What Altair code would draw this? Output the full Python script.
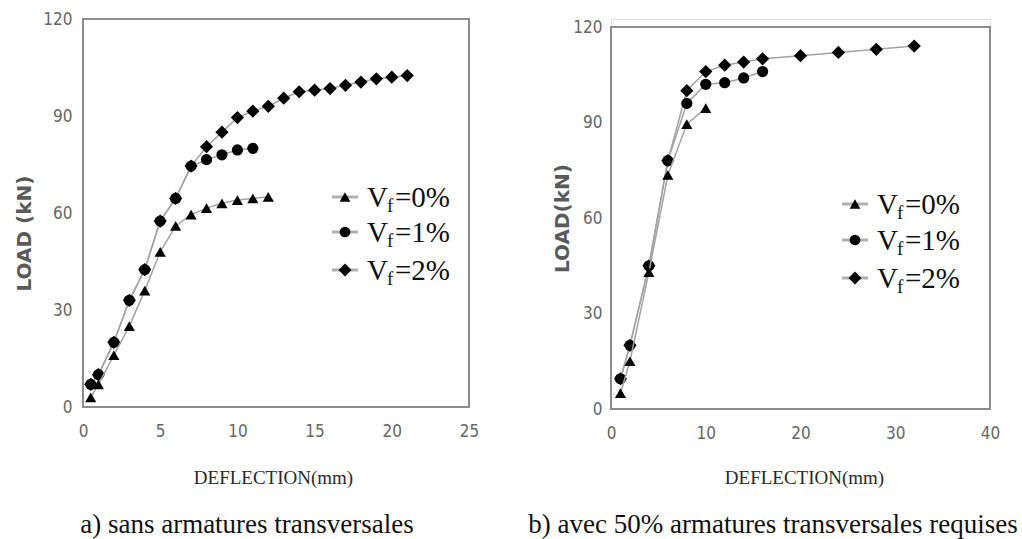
import altair as alt
import pandas as pd

series_names = ["Vf = 0%", "Vf = 1%", "Vf = 2%"]
legend_nums = ["=0%", "=1%", "=2%"]
shapes = ["triangle-up", "circle", "diamond"]
sizes = [125, 125, 175]

# Panel a) sans armatures transversales
a_x0 = [0.5, 1, 2, 3, 4, 5, 6, 7, 8, 9, 10, 11, 12]
a_y0 = [3, 7, 16, 25, 36, 48, 56, 59.5, 61.5, 63, 64, 64.5, 65]
a_x1 = [0.5, 1, 2, 3, 4, 5, 6, 7, 8, 9, 10, 11]
a_y1 = [7, 10, 20, 33, 42.5, 57.5, 64.5, 74.5, 76.5, 78, 79.5, 80]
a_x2 = [0.5, 1, 2, 3, 4, 5, 6, 7, 8, 9, 10, 11, 12, 13, 14, 15, 16, 17, 18, 19, 20, 21]
a_y2 = [7, 10, 20, 33, 42.5, 57.5, 64.5, 74.5, 80.5, 85, 89.5, 91.5, 93, 95.5, 97.5,
        98, 98.5, 99.5, 100.5, 101.5, 102, 102.5]

# Panel b) avec 50% armatures transversales requises
b_x0 = [1, 2, 4, 6, 8, 10]
b_y0 = [5, 15, 43, 73.5, 89.5, 94.5]
b_x1 = [1, 2, 4, 6, 8, 10, 12, 14, 16]
b_y1 = [9.5, 20, 45, 78, 96, 102, 102.5, 104, 106]
b_x2 = [1, 2, 4, 6, 8, 10, 12, 14, 16, 20, 24, 28, 32]
b_y2 = [9.5, 20, 45, 78, 100, 106, 108, 109, 110, 111, 112, 113, 114]

y_ticks = [0, 30, 60, 90, 120]

LABEL_FONT = "Liberation Sans Narrow, DejaVu Sans Condensed, Arial Narrow, sans-serif"
SERIF = "Liberation Serif, Times New Roman, serif"
LINE_GRAY = "#a3a3a3"
FRAME_GRAY = "#8c8c8c"


def panel(xs_list, ys_list, xmax, xstep, ytitle, w, h, ydom, ytitle_x, ytitle_y,
          xtitle_x, xtitle_y, ylabel_pad, leg_x, leg_ys, text_x, caption, cap_x, cap_y):
    xsc = alt.Scale(domain=[0, xmax], nice=False, zero=True)
    ysc = alt.Scale(domain=[0, ydom], nice=False, zero=True)
    xax = alt.Axis(values=list(range(0, xmax + 1, xstep)), title="DEFLECTION(mm)",
                   domain=False, ticks=False, tickSize=0, grid=False, labelFlush=False,
                   labelFont=LABEL_FONT, labelFontSize=17, labelColor="#666666",
                   labelPadding=16, titleFont=SERIF, titleFontSize=19,
                   titleFontWeight="normal", titleColor="#2a2a2a",
                   titleX=xtitle_x, titleY=xtitle_y, titleAlign="center",
                   titleBaseline="alphabetic")
    yax = alt.Axis(values=y_ticks, title=ytitle, domain=False, ticks=False, tickSize=0,
                   grid=False, labelFlush=False, labelFont=LABEL_FONT, labelFontSize=17,
                   labelColor="#666666", labelPadding=ylabel_pad,
                   titleFont="DejaVu Sans, sans-serif", titleFontSize=20,
                   titleFontWeight="bold", titleColor="#5a5a5a",
                   titleX=ytitle_x, titleY=ytitle_y, titleAngle=270,
                   titleAlign="center", titleBaseline="middle")
    X = lambda f: alt.X(f, scale=xsc, axis=xax)
    Y = lambda f: alt.Y(f, scale=ysc, axis=yax)

    frame_df = pd.DataFrame({"x0": [0], "x1": [xmax], "y0": [0], "y1": [120]})
    layers = [
        alt.Chart(frame_df).mark_rect(fillOpacity=0, stroke=FRAME_GRAY, strokeWidth=2)
        .encode(x=X("x0:Q"), x2="x1:Q", y=Y("y0:Q"), y2="y1:Q")
    ]
    for k in [2, 1, 0]:
        df = pd.DataFrame({"x": xs_list[k], "y": ys_list[k],
                           "i": list(range(len(xs_list[k])))})
        layers.append(alt.Chart(df).mark_line(color=LINE_GRAY, strokeWidth=1.5)
                      .encode(x=X("x:Q"), y=Y("y:Q"), order="i:Q"))
        layers.append(alt.Chart(df).mark_point(shape=shapes[k], size=sizes[k], filled=True,
                                               color="black", opacity=1)
                      .encode(x=X("x:Q"), y=Y("y:Q")))
    one = pd.DataFrame({"a": [0]})
    for k in range(3):
        py = leg_ys[k]
        layers.append(alt.Chart(one).mark_rule(color="#b0b0b0", strokeWidth=3)
                      .encode(x=alt.value(leg_x - 13), x2=alt.value(leg_x + 13),
                              y=alt.value(py)))
        layers.append(alt.Chart(one).mark_point(shape=shapes[k], size=sizes[k] - 10,
                                                filled=True, color="black", opacity=1)
                      .encode(x=alt.value(leg_x), y=alt.value(py)))
        layers.append(alt.Chart(one).mark_text(text="V", align="left", baseline="alphabetic",
                                               font=SERIF, fontSize=29, color="#111111")
                      .encode(x=alt.value(text_x), y=alt.value(py + 10)))
        layers.append(alt.Chart(one).mark_text(text="f", align="left", baseline="alphabetic",
                                               font=SERIF, fontSize=19, color="#111111")
                      .encode(x=alt.value(text_x + 20), y=alt.value(py + 15)))
        layers.append(alt.Chart(one).mark_text(text=legend_nums[k], align="left",
                                               baseline="alphabetic", font=SERIF,
                                               fontSize=29, color="#111111")
                      .encode(x=alt.value(text_x + 28), y=alt.value(py + 10)))
    layers.append(alt.Chart(one).mark_text(text=caption, align="center", baseline="alphabetic",
                                           font=SERIF, fontSize=27, color="#111111")
                  .encode(x=alt.value(cap_x), y=alt.value(cap_y)))
    return alt.layer(*layers).properties(width=w, height=h)


left = panel([a_x0, a_x1, a_x2], [a_y0, a_y1, a_y2], 25, 5, "LOAD (kN)", 386, 388, 120,
             -59, 214, 190, 76, 11, 262, [178, 213, 251], 284,
             "a) sans armatures transversales", 164, 514)
right = panel([b_x0, b_x1, b_x2], [b_y0, b_y1, b_y2], 40, 10, "LOAD(kN)", 379, 390,
              120 * 390 / 382, -49, 199, 193, 74, 9, 244, [185, 221, 259], 266,
              "b) avec 50% armatures transversales requises", 162, 514)

chart = alt.hconcat(left, right, spacing=142, bounds="flush").properties(
    padding={"left": 13, "top": 9, "right": 0, "bottom": 0}
).configure_view(stroke="transparent", strokeWidth=0).configure(background="white")

chart.save("out.html", embed_options={"renderer": "svg", "actions": False})
